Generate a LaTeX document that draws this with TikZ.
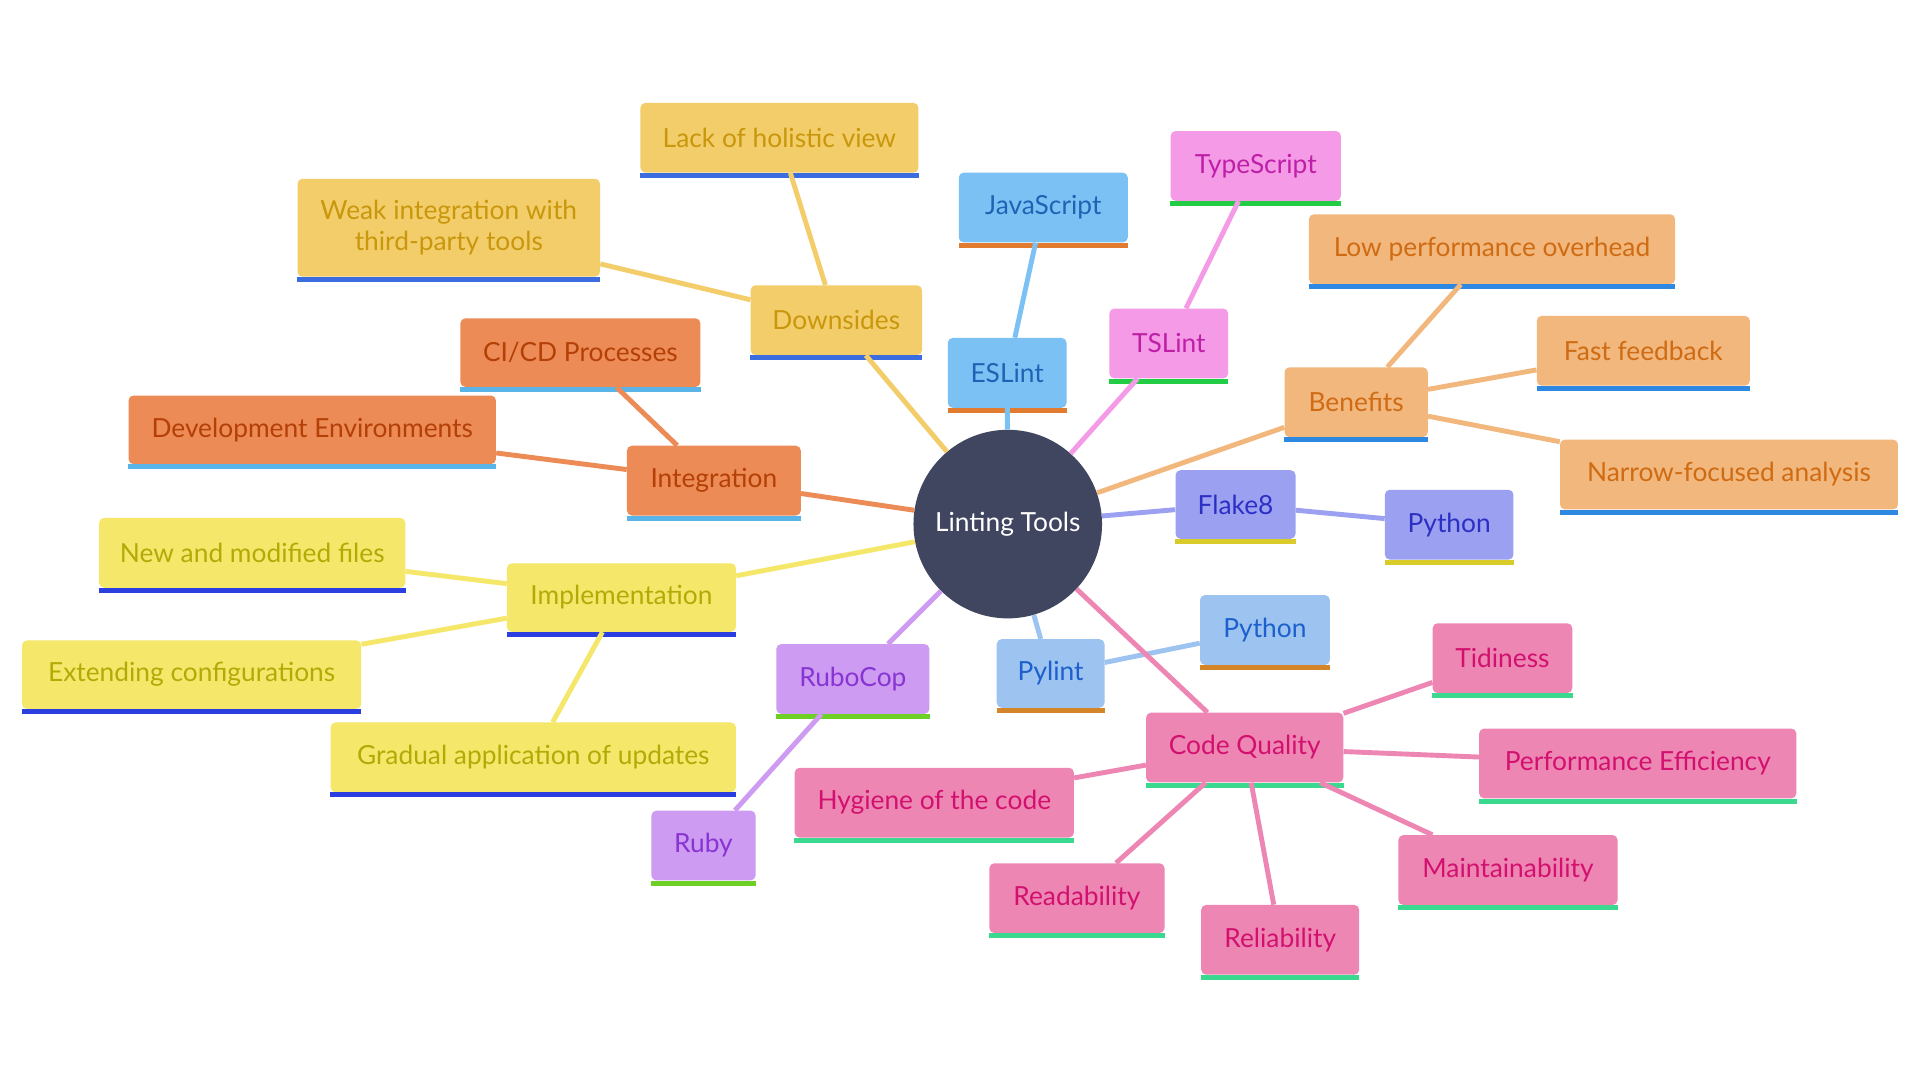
\documentclass[tikz,border=0pt]{standalone}
\usepackage{fontspec}
\setmainfont{Lato}
\usetikzlibrary{positioning}
\definecolor{goldfill}{HTML}{F3CD6A}\definecolor{goldtext}{HTML}{C8970C}\definecolor{goldbar}{HTML}{3B6CE0}
\definecolor{orgfill}{HTML}{EC8B55}\definecolor{orgtext}{HTML}{B43F07}\definecolor{orgbar}{HTML}{5AB4E8}
\definecolor{yelfill}{HTML}{F5E769}\definecolor{yeltext}{HTML}{B3AA08}\definecolor{yelbar}{HTML}{2B3FE0}
\definecolor{bluefill}{HTML}{7CC1F4}\definecolor{bluetext}{HTML}{1F63B5}\definecolor{bluebar}{HTML}{E07B2F}
\definecolor{pinkfill}{HTML}{F49AE6}\definecolor{pinktext}{HTML}{BE1FA6}\definecolor{pinkbar}{HTML}{22CC44}
\definecolor{tanfill}{HTML}{F2B77D}\definecolor{tantext}{HTML}{CF6B12}\definecolor{tanbar}{HTML}{2D88E2}
\definecolor{violfill}{HTML}{9CA0F1}\definecolor{violtext}{HTML}{2B2FC4}\definecolor{violbar}{HTML}{D9CB2A}
\definecolor{lavfill}{HTML}{CD9BF1}\definecolor{lavtext}{HTML}{8833D3}\definecolor{lavbar}{HTML}{6ECF24}
\definecolor{skyfill}{HTML}{9DC3F0}\definecolor{skytext}{HTML}{1B60CC}\definecolor{skybar}{HTML}{D48528}
\definecolor{rosefill}{HTML}{EE86B4}\definecolor{rosetext}{HTML}{D2106E}\definecolor{rosebar}{HTML}{3BD890}
\definecolor{hubfill}{HTML}{404560}
\tikzset{
  box/.style={rectangle, rounded corners=4pt, fill=#1fill, text=#1text, inner sep=0pt,
    align=center, font=\fontsize{21.5}{25}\selectfont},
  edge/.style={line width=4pt, draw=#1fill},
}
% name, cx, cy, width, height (incl. bar), text, group
\newcommand\bx[7]{%
  \node[box=#7, minimum width=#4pt, minimum height=#5pt-4pt] (#1) at (#2,#3-2) {#6};
  \fill[#7bar] (#1.south west) rectangle ([yshift=-4pt]#1.south east);
}
\begin{document}
\begin{tikzpicture}[x=1pt,y=-1pt]
\useasboundingbox (0,0) rectangle (1568,882);
\fill[white] (0,0) rectangle (1568,882);
\node[circle, fill=hubfill, minimum size=154pt, inner sep=0pt, text=white,
  font=\fontsize{21.5}{25}\selectfont] (hub) at (823,428) {Linting Tools};
% Downsides
\bx{lhv}{636.5}{114.5}{227}{61}{Lack of holistic view}{gold}
\bx{weak}{366.5}{188}{247}{84}{Weak integration with\\third-party tools}{gold}
\bx{dn}{683}{263.5}{140}{61}{Downsides}{gold}
% ESLint
\bx{js}{852}{171.5}{138}{61}{JavaScript}{blue}
\bx{es}{822.5}{306.5}{97}{61}{ESLint}{blue}
% TSLint
\bx{ts}{1025.5}{137.5}{139}{61}{TypeScript}{pink}
\bx{tsl}{954.5}{282.5}{97}{61}{TSLint}{pink}
% Benefits
\bx{lpo}{1218.5}{205.5}{299}{61}{Low performance overhead}{tan}
\bx{ff}{1342}{288.5}{174}{61}{Fast feedback}{tan}
\bx{ben}{1107.5}{330.5}{117}{61}{Benefits}{tan}
\bx{nfa}{1412}{389.5}{276}{61}{Narrow-focused analysis}{tan}
% Integration
\bx{cicd}{474}{290}{196}{60}{CI/CD Processes}{org}
\bx{dev}{255}{353}{300}{60}{Development Environments}{org}
\bx{int}{583}{394.5}{142}{61}{Integration}{org}
% Implementation
\bx{new}{206}{453.5}{250}{61}{New and modified files}{yel}
\bx{impl}{507.5}{490}{187}{60}{Implementation}{yel}
\bx{ext}{156.5}{553}{277}{60}{Extending configurations}{yel}
\bx{grad}{435.5}{620.5}{331}{61}{Gradual application of updates}{yel}
% Flake8
\bx{fl}{1009}{414}{98}{60}{Flake8}{viol}
\bx{pya}{1183.5}{430.5}{105}{61}{Python}{viol}
% RuboCop
\bx{rc}{696.5}{556.5}{125}{61}{RuboCop}{lav}
\bx{ruby}{574.5}{692.5}{85}{61}{Ruby}{lav}
% Pylint
\bx{pl}{858}{552}{88}{60}{Pylint}{sky}
\bx{pyb}{1033}{516.5}{106}{61}{Python}{sky}
% Code Quality
\bx{cq}{1016.5}{612.5}{161}{61}{Code Quality}{rose}
\bx{tid}{1227}{539.5}{114}{61}{Tidiness}{rose}
\bx{pe}{1337.5}{625.5}{259}{61}{Performance Efficiency}{rose}
\bx{hyg}{763}{657.5}{228}{61}{Hygiene of the code}{rose}
\bx{mnt}{1231.5}{712.5}{179}{61}{Maintainability}{rose}
\bx{rd}{879.5}{735.5}{143}{61}{Readability}{rose}
\bx{rel}{1045.5}{769.5}{129}{61}{Reliability}{rose}
% edges
\draw[edge=gold] (hub) -- (dn);
\draw[edge=gold] (dn) -- (lhv);
\draw[edge=gold] (dn) -- (weak);
\draw[edge=blue] (hub) -- (es);
\draw[edge=blue] (es) -- (js);
\draw[edge=pink] (hub) -- (tsl);
\draw[edge=pink] (tsl) -- (ts);
\draw[edge=tan] (hub) -- (ben);
\draw[edge=tan] (ben) -- (lpo);
\draw[edge=tan] (ben) -- (ff);
\draw[edge=tan] (ben) -- (nfa);
\draw[edge=org] (hub) -- (int);
\draw[edge=org] (int) -- (cicd);
\draw[edge=org] (int) -- (dev);
\draw[edge=yel] (hub) -- (impl);
\draw[edge=yel] (impl) -- (new);
\draw[edge=yel] (impl) -- (ext);
\draw[edge=yel] (impl) -- (grad);
\draw[edge=viol] (hub) -- (fl);
\draw[edge=viol] (fl) -- (pya);
\draw[edge=lav] (hub) -- (rc);
\draw[edge=lav] (rc) -- (ruby);
\draw[edge=sky] (hub) -- (pl);
\draw[edge=sky] (pl) -- (pyb);
\draw[edge=rose] (hub) -- (cq);
\draw[edge=rose] (cq) -- (tid);
\draw[edge=rose] (cq) -- (pe);
\draw[edge=rose] (cq) -- (hyg);
\draw[edge=rose] (cq) -- (mnt);
\draw[edge=rose] (cq) -- (rd);
\draw[edge=rose] (cq) -- (rel);
\end{tikzpicture}
\end{document}
